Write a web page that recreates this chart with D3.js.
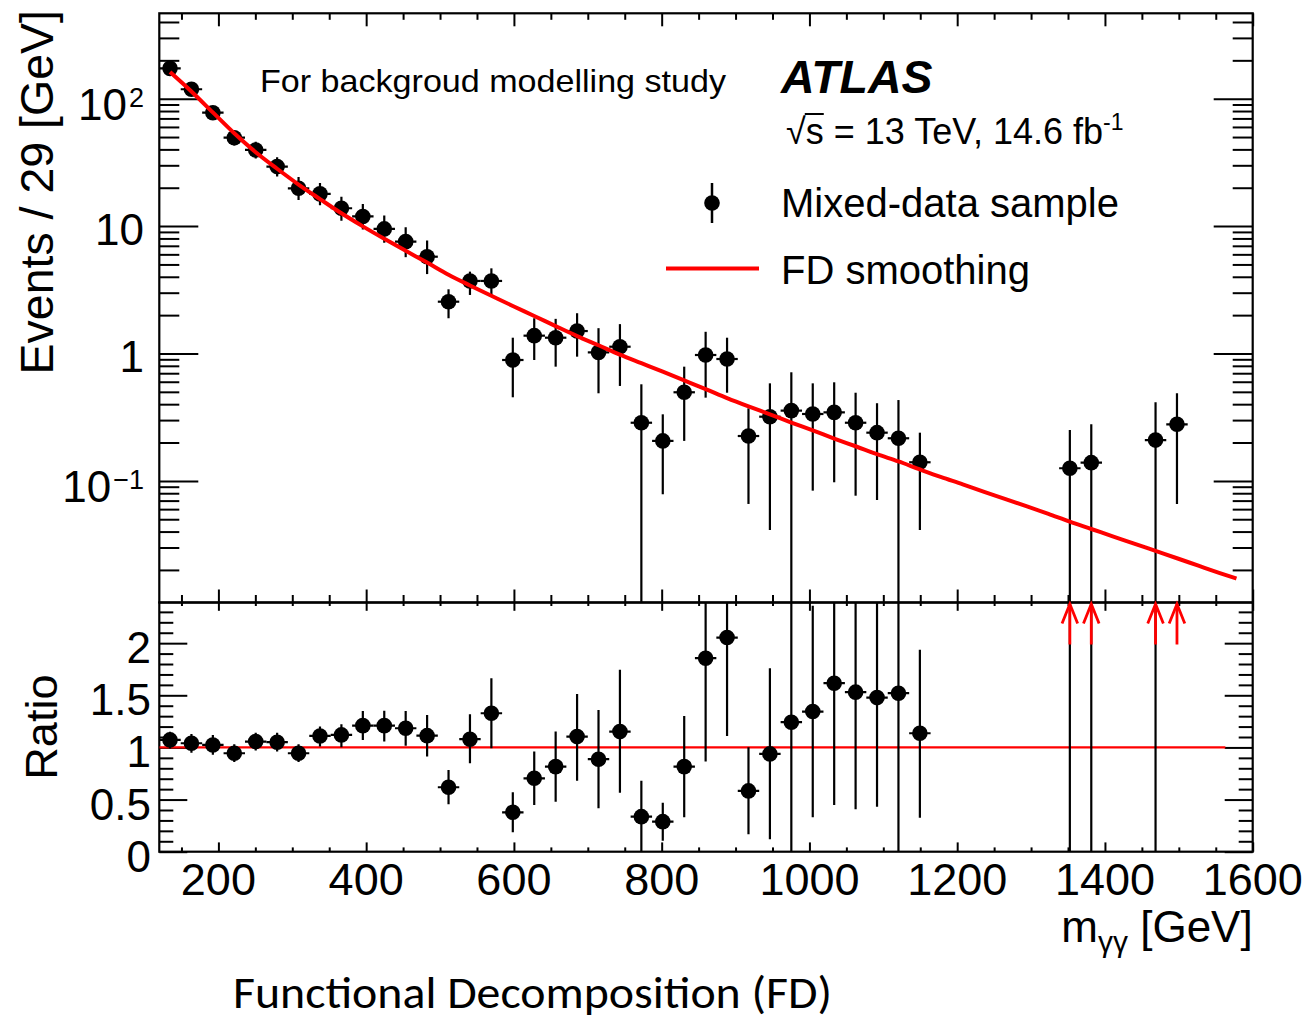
<!DOCTYPE html>
<html>
<head>
<meta charset="utf-8">
<script src="https://cdn.jsdelivr.net/npm/d3@7"></script>
<style>
html,body{margin:0;padding:0;background:#fff;}
svg{display:block;}
text{font-family:"Liberation Sans",Arial,Helvetica,sans-serif;fill:#000;}
</style>
</head>
<body>
<svg id="chart" width="1315" height="1019"></svg>
<script>
// ---------------- DATA ----------------
const massCenters = [134.5,163.5,192.5,221.5,250.5,279.5,308.5,337.5,366.5,395.5,424.5,453.5,482.5,511.5,540.5,569.5,598.5,627.5,656.5,685.5,714.5,743.5,772.5,801.5,830.5,859.5,888.5,917.5,946.5,975.5,1004.5,1033.5,1062.5,1091.5,1120.5,1149.5,1352.5,1381.5,1468.5,1497.5];
const binHalfWidth = 14.5;
const events = [173,118.6,77.6,49.4,39.6,29.3,19.8,17.9,13.8,11.9,9.5,7.55,5.75,2.55,3.71,3.71,0.889,1.38,1.33,1.50,1.02,1.13,0.286,0.206,0.496,0.973,0.905,0.225,0.319,0.356,0.335,0.345,0.286,0.239,0.216,0.140,0.1256,0.139,0.209,0.278];
const eventsLow = [160,108,69,43,34,24.5,16,14.6,11.0,9.4,7.4,5.7,4.2,1.89,2.88,2.88,0.453,0.889,0.788,0.944,0.487,0.556,0,0.0785,0.206,0.450,0.492,0.0659,0.0412,0,0.0838,0.0975,0.0765,0.0708,0,0.0412,0,0,0,0.0659];
const eventsHigh = [186,130,87,56,46,34.7,24.3,21.8,17.0,14.9,12.1,9.8,7.7,3.19,4.39,4.66,1.33,1.89,1.87,2.07,1.58,1.70,0.573,0.333,0.788,1.48,1.33,0.371,0.583,0.712,0.583,0.594,0.492,0.407,0.431,0.239,0.251,0.278,0.414,0.487];
const ratio = [1.072,1.040,1.024,0.944,1.056,1.050,0.944,1.110,1.120,1.209,1.209,1.184,1.113,0.618,1.079,1.328,0.378,0.704,0.816,1.104,0.887,1.152,0.336,0.288,0.816,1.856,2.054,0.583,0.938,1.242,1.344,1.616,1.530,1.478,1.520,1.136,2.63,3.33,7.4,11.3];
const ratioLow = [0.99,0.95,0.93,0.86,0.97,0.96,0.86,1.008,1.002,1.072,1.056,1.017,0.912,0.455,0.848,0.992,0.186,0.448,0.480,0.681,0.416,0.566,0,0.106,0.330,0.864,1.110,0.167,0.119,0,0.330,0.448,0.407,0.432,0,0.326,0,0,0,2.67];
const ratioHigh = [1.15,1.13,1.12,1.03,1.14,1.14,1.03,1.20,1.223,1.350,1.353,1.350,1.312,0.784,1.319,1.664,0.570,0.960,1.152,1.513,1.360,1.744,0.681,0.470,1.302,2.80,3.00,1.002,1.760,2.50,2.358,2.80,2.60,2.50,3.00,1.936,5.2,6.6,14.6,19.7];
const fitMass = [134.5,163.5,192.5,221.5,250.5,279.5,308.5,337.5,366.5,395.5,424.5,453.5,482.5,511.5,540.5,569.5,598.5,627.5,656.5,685.5,714.5,743.5,772.5,801.5,830.5,859.5,888.5,917.5,946.5,975.5,1004.5,1033.5,1062.5,1091.5,1120.5,1149.5,1178.5,1207.5,1236.5,1265.5,1294.5,1323.5,1352.5,1381.5,1410.5,1439.5,1468.5,1497.5,1526.5,1555.5,1578];
const fitValues = [162,114,78,53.5,38,28.2,21.2,16.3,12.6,9.95,7.95,6.4,5.17,4.15,3.42,2.84,2.36,1.97,1.64,1.37,1.16,0.98,0.84,0.72,0.615,0.525,0.446,0.384,0.333,0.287,0.249,0.215,0.187,0.162,0.142,0.123,0.107,0.094,0.082,0.072,0.063,0.055,0.0478,0.0419,0.0367,0.0322,0.0282,0.0247,0.0216,0.0189,0.0171];
const ratioLineRange = [120,1563];

const xDomain = [120,1600];
const yDomain = [0.0111,468];
const ratioDomain = [0,2.39];
const xMajorTicks = [200,400,600,800,1000,1200,1400,1600];
const xMajorLabels = ["200","400","600","800","1000","1200","1400","1600"];
const xMinorTicks = [150,250,300,350,450,500,550,650,700,750,850,900,950,1050,1100,1150,1250,1300,1350,1450,1500,1550];
const yMajorTicks = [0.1,1,10,100];
const yMajorLabels = [["10","−1"],["1",""],["10",""],["10","2"]];
const yMinorTicks = [0.02,0.03,0.04,0.05,0.06,0.07,0.08,0.09,0.2,0.3,0.4,0.5,0.6,0.7,0.8,0.9,2,3,4,5,6,7,8,9,20,30,40,50,60,70,80,90,200,300,400];
const ratioMajorTicks = [0,0.5,1,1.5,2];
const ratioMajorLabels = ["0","0.5","1","1.5","2"];
const ratioMinorTicks = [0.1,0.2,0.3,0.4,0.6,0.7,0.8,0.9,1.1,1.2,1.3,1.4,1.6,1.7,1.8,1.9,2.1,2.2,2.3];

// ---------------- LAYOUT ----------------
const L = 159.3, R = 1252.7, T = 13.3, M = 602.5, B = 851.7;
const svg = d3.select('#chart');
const x = d3.scaleLinear().domain(xDomain).range([L,R]);
const y = d3.scaleLog().domain(yDomain).range([M,T]);
const yr = d3.scaleLinear().domain(ratioDomain).range([B,M]);

const defs = svg.append('defs');
defs.append('clipPath').attr('id','clipU').append('rect').attr('x',L).attr('y',T).attr('width',R-L).attr('height',M-T);
defs.append('clipPath').attr('id','clipR').append('rect').attr('x',L).attr('y',M).attr('width',R-L).attr('height',B-M);

// ---------------- TICKS (d3 axes) ----------------
function styleAxis(g){
  g.select('.domain').remove();
  g.selectAll('.tick line').attr('stroke','#000').attr('stroke-width',2);
  g.selectAll('.tick text').remove();
}
function addAxis(gen, tx, ty, values, size){
  const g = svg.append('g').attr('transform',`translate(${tx},${ty})`)
    .call(gen.tickValues(values).tickSize(size).tickFormat(''));
  styleAxis(g);
}
addAxis(d3.axisBottom(x), 0, T, xMajorTicks, 13);
addAxis(d3.axisBottom(x), 0, T, xMinorTicks, 6.5);
addAxis(d3.axisTop(x), 0, M, xMajorTicks, 13);
addAxis(d3.axisTop(x), 0, M, xMinorTicks, 7.5);
addAxis(d3.axisBottom(x), 0, M, xMajorTicks, 8.3);
addAxis(d3.axisBottom(x), 0, M, xMinorTicks, 3.5);
addAxis(d3.axisTop(x), 0, B, xMajorTicks, 9.3);
addAxis(d3.axisTop(x), 0, B, xMinorTicks, 4.3);
addAxis(d3.axisRight(y), L, 0, yMajorTicks, 39);
addAxis(d3.axisRight(y), L, 0, yMinorTicks, 20);
addAxis(d3.axisLeft(y), R, 0, yMajorTicks, 39);
addAxis(d3.axisLeft(y), R, 0, yMinorTicks, 20);
addAxis(d3.axisRight(yr), L, 0, ratioMajorTicks, 28);
addAxis(d3.axisRight(yr), L, 0, ratioMinorTicks, 14);
addAxis(d3.axisLeft(yr), R, 0, ratioMajorTicks, 28);
addAxis(d3.axisLeft(yr), R, 0, ratioMinorTicks, 14);

svg.append('rect').attr('x',L).attr('y',T).attr('width',R-L).attr('height',M-T)
  .attr('fill','none').attr('stroke','#000').attr('stroke-width',2.2);
svg.append('rect').attr('x',L).attr('y',M).attr('width',R-L).attr('height',B-M)
  .attr('fill','none').attr('stroke','#000').attr('stroke-width',2.2);

// ---------------- TICK LABELS ----------------
svg.append('g').selectAll('text').data(xMajorTicks).join('text')
  .attr('x',d=>x(d)).attr('y',895).attr('text-anchor','middle')
  .attr('font-size',45).text((d,i)=>xMajorLabels[i]);

const yl = svg.append('g');
yMajorTicks.forEach((v,i)=>{
  const [base,sup] = yMajorLabels[i];
  const t = yl.append('text').attr('x',144).attr('text-anchor','end').attr('font-size',44)
    .attr('y', y(v) + (sup ? 21 : 19));
  t.append('tspan').text(base);
  if(sup){
    t.append('tspan').attr('font-size',27).attr('dy',-13).attr('dx',2).text(sup);
  }
});
svg.append('g').selectAll('text').data(ratioMajorTicks).join('text')
  .attr('x',151).attr('y',d=>yr(d)+20).attr('text-anchor','end')
  .attr('font-size',44).text((d,i)=>ratioMajorLabels[i]);

svg.append('text').attr('transform','translate(53,10) rotate(-90)')
  .attr('text-anchor','end').attr('font-size',46.5).text('Events / 29 [GeV]');
svg.append('text').attr('transform',`translate(57,${(M+B)/2}) rotate(-90)`)
  .attr('text-anchor','middle').attr('font-size',45).text('Ratio');
const xt = svg.append('text').attr('x',R).attr('y',942).attr('text-anchor','end').attr('font-size',44);
xt.append('tspan').text('m');
xt.append('tspan').attr('font-size',30).attr('dy',10).text('γγ');
xt.append('tspan').attr('dy',-10).text(' [GeV]');

// ---------------- UPPER PANEL DATA ----------------
const pts = massCenters.map((m,i)=>({m, v:events[i], lo:eventsLow[i], hi:eventsHigh[i], r:ratio[i], rlo:ratioLow[i], rhi:ratioHigh[i]}));
const yy = v => v <= yDomain[0] ? M + 5 : y(v);
const up = svg.append('g').attr('clip-path','url(#clipU)');
up.selectAll('line.ev').data(pts).join('line').attr('class','ev')
  .attr('x1',d=>x(d.m)).attr('x2',d=>x(d.m)).attr('y1',d=>yy(d.lo)).attr('y2',d=>yy(d.hi))
  .attr('stroke','#000').attr('stroke-width',2.2);
up.selectAll('line.eh').data(pts).join('line').attr('class','eh')
  .attr('x1',d=>x(d.m-binHalfWidth)).attr('x2',d=>x(d.m+binHalfWidth)).attr('y1',d=>y(d.v)).attr('y2',d=>y(d.v))
  .attr('stroke','#000').attr('stroke-width',2.2);
up.selectAll('circle').data(pts).join('circle')
  .attr('cx',d=>x(d.m)).attr('cy',d=>y(d.v)).attr('r',7.8).attr('fill','#000');

const fitLine = d3.line().x(d=>x(d[0])).y(d=>y(d[1])).curve(d3.curveMonotoneX);
up.append('path').datum(fitMass.map((m,i)=>[m,fitValues[i]]))
  .attr('d',fitLine).attr('fill','none').attr('stroke','#ff0000').attr('stroke-width',4);

// ---------------- RATIO PANEL ----------------
const rp = svg.append('g').attr('clip-path','url(#clipR)');
rp.append('line').attr('x1',x(ratioLineRange[0])).attr('x2',x(ratioLineRange[1]))
  .attr('y1',yr(1)).attr('y2',yr(1)).attr('stroke','#ff0000').attr('stroke-width',2.2);
rp.selectAll('line.rv').data(pts).join('line').attr('class','rv')
  .attr('x1',d=>x(d.m)).attr('x2',d=>x(d.m)).attr('y1',d=>yr(d.rlo)).attr('y2',d=>yr(Math.min(d.rhi,3)))
  .attr('stroke','#000').attr('stroke-width',2.2);
const inRange = pts.filter(d=>d.r <= ratioDomain[1]);
const outRange = pts.filter(d=>d.r > ratioDomain[1]);
rp.selectAll('line.rh').data(inRange).join('line').attr('class','rh')
  .attr('x1',d=>x(d.m-binHalfWidth)).attr('x2',d=>x(d.m+binHalfWidth)).attr('y1',d=>yr(d.r)).attr('y2',d=>yr(d.r))
  .attr('stroke','#000').attr('stroke-width',2.2);
rp.selectAll('circle').data(inRange).join('circle')
  .attr('cx',d=>x(d.m)).attr('cy',d=>yr(d.r)).attr('r',7.8).attr('fill','#000');
const ar = svg.append('g').attr('stroke','#ff0000').attr('stroke-width',2.8).attr('fill','none');
outRange.forEach(d=>{
  const cx = x(d.m);
  ar.append('line').attr('x1',cx).attr('x2',cx).attr('y1',M+42).attr('y2',M+1.5);
  ar.append('path').attr('d',`M${cx-7.8},${M+21} L${cx},${M+1.5} L${cx+7.8},${M+21}`);
});

// ---------------- LABELS / LEGEND ----------------
svg.append('text').attr('x',260).attr('y',92).attr('font-size',32)
  .attr('textLength',466).attr('lengthAdjust','spacingAndGlyphs')
  .text('For backgroud modelling study');
svg.append('text').attr('x',781).attr('y',92.5).attr('font-size',46.5)
  .attr('font-weight','bold').attr('font-style','italic').text('ATLAS');
const en = svg.append('text').attr('x',786).attr('y',144).attr('font-size',36);
en.append('tspan').text('√');
en.append('tspan').text('s = 13 TeV, 14.6 fb');
en.append('tspan').attr('font-size',23).attr('dy',-14).text('-1');
const node = en.node();
const e0 = node.getExtentOfChar(0), e1 = node.getExtentOfChar(1);
svg.append('line').attr('x1',e0.x + e0.width - 1).attr('x2',e1.x + e1.width)
  .attr('y1',e0.y + 3).attr('y2',e0.y + 3).attr('stroke','#000').attr('stroke-width',2);

svg.append('line').attr('x1',712).attr('x2',712).attr('y1',183).attr('y2',223)
  .attr('stroke','#000').attr('stroke-width',2.5);
svg.append('circle').attr('cx',712).attr('cy',203).attr('r',7.8).attr('fill','#000');
svg.append('text').attr('x',781).attr('y',217).attr('font-size',40).text('Mixed-data sample');
svg.append('line').attr('x1',666).attr('x2',759).attr('y1',268.5).attr('y2',268.5)
  .attr('stroke','#ff0000').attr('stroke-width',4);
svg.append('text').attr('x',781).attr('y',283.5).attr('font-size',40).text('FD smoothing');

svg.append('text').attr('x',233).attr('y',1008).attr('font-size',46)
  .style('font-family','Carlito, Lato, "Open Sans", sans-serif')
  .attr('textLength',599).attr('lengthAdjust','spacingAndGlyphs')
  .text('Functional Decomposition (FD)');
</script>
</body>
</html>
